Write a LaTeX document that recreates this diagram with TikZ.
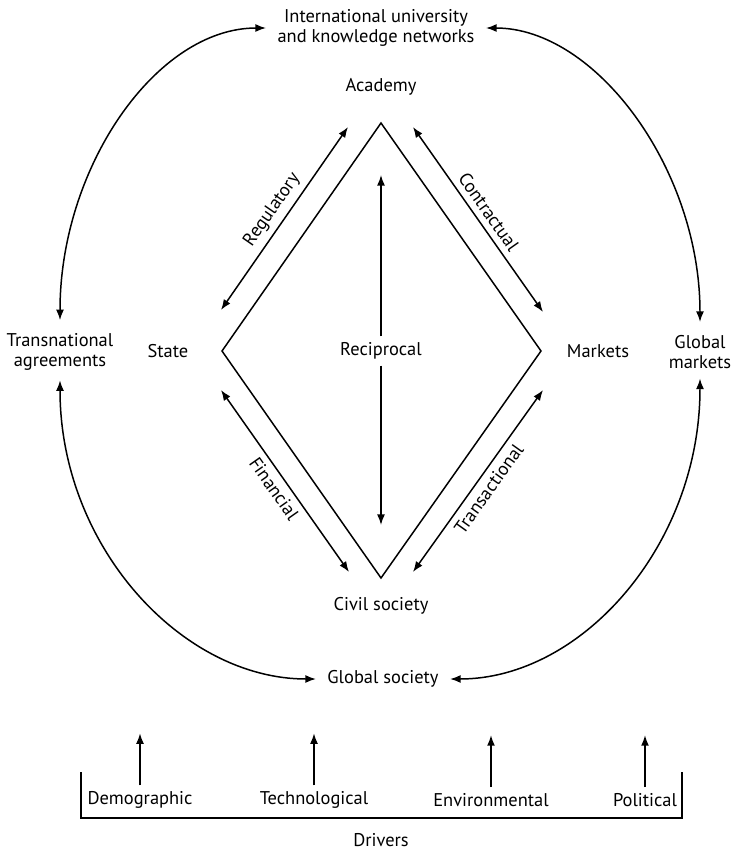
\documentclass[tikz,border=0pt]{standalone}
\usepackage{fontspec}
\setmainfont{PT Sans}
\usetikzlibrary{arrows.meta}
\tikzset{
    lbl/.style={font=\fontsize{10.5}{11.5}\selectfont, align=center},
    twoway/.style={{Latex[length=6pt,width=4.5pt]}-{Latex[length=6pt,width=4.5pt]}, line width=0.85pt},
    oneway/.style={-{Latex[length=6pt,width=4.5pt]}, line width=0.85pt}
}

\begin{document}
\begin{tikzpicture}[x=0.02cm,y=0.02cm]
    \useasboundingbox (0,0) rectangle (735,-849);
    % diamond
    \coordinate (T) at (381,-123);
    \coordinate (L) at (222,-351);
    \coordinate (R) at (541,-351);
    \coordinate (B) at (381,-578);
    \draw[line width=0.85pt] (T) -- (R) -- (B) -- (L) -- cycle;
    % labels
    \node[lbl] (intl) at (376,-28) {International university\\and knowledge networks};
    \node[lbl] (acad) at (381,-87) {Academy};
    \node[lbl] (state) at (168,-351) {State};
    \node[lbl] (mkts) at (598,-351) {Markets};
    \node[lbl] (civil) at (381,-606) {Civil society};
    \node[lbl] (recip) at (381,-351) {Reciprocal};
    \node[lbl] (trans) at (60,-352) {Transnational\\agreements};
    \node[lbl] (gmkts) at (700,-352) {Global\\markets};
    \node[lbl] (gsoc) at (383,-679) {Global society};
    % side arrows
    \coordinate (regA) at (221,-310); \coordinate (regB) at (348,-127);
    \coordinate (conA) at (413,-127); \coordinate (conB) at (543,-312);
    \coordinate (finA) at (221,-390); \coordinate (finB) at (349,-572);
    \coordinate (traA) at (413,-572); \coordinate (traB) at (543,-390);
    \draw[twoway] (regA) -- node[lbl,pos=0.5,sloped,above]{Regulatory} (regB);
    \draw[twoway] (conA) -- node[lbl,pos=0.5,sloped,above]{Contractual} (conB);
    \draw[twoway] (finA) -- node[lbl,pos=0.5,sloped,below]{Financial} (finB);
    \draw[twoway] (traA) -- node[lbl,pos=0.5,sloped,below]{Transactional} (traB);
    \coordinate (recT) at (381,-175);
    \coordinate (recB) at (381,-525);
    \draw[oneway] (recip.north) -- (recT);
    \draw[oneway] (recip.south) -- (recB);
    % outer loop
    \draw[twoway,shorten <=4pt,shorten >=3pt] (trans.north) .. controls +(0,160) and +(-115,0) .. (intl.west);
    \draw[twoway,shorten <=3pt,shorten >=4pt] (intl.east) .. controls +(115,0) and +(0,160) .. (gmkts.north);
    \draw[twoway,shorten <=2pt,shorten >=3pt] (trans.south) .. controls +(0,-170) and +(-139,0) .. (gsoc.west);
    \draw[twoway,shorten <=2pt,shorten >=3pt] (gmkts.south) .. controls +(0,-170) and +(137,0) .. (gsoc.east);
    % drivers
    \foreach \name/\txt/\xx in {demo/Demographic/140, tech/Technological/314, env/Environmental/491, pol/Political/645} {
        \node[lbl] (\name) at (\xx,-800) {\txt};
        \draw[oneway] (\name.north) -- +(0,52);
    }
    \draw[line width=0.85pt] (81,-772) |- (682,-818) -- (682,-772);
    \node[lbl] (drv) at (381,-840) {Drivers};
\end{tikzpicture}
\end{document}
